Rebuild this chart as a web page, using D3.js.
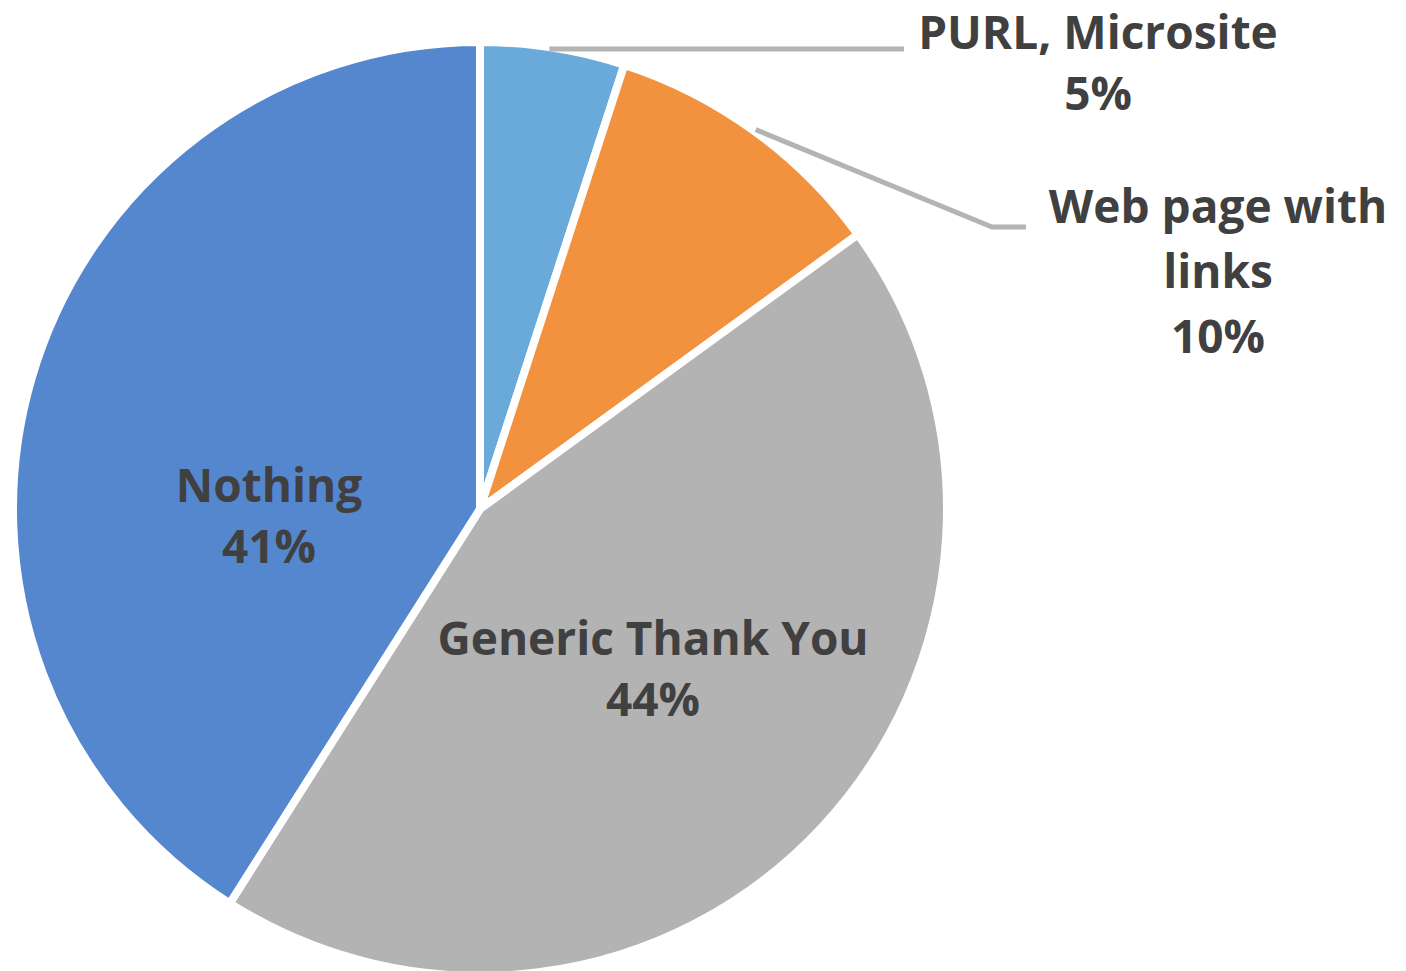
<!DOCTYPE html>
<html>
<head>
<meta charset="utf-8">
<script src="https://cdn.jsdelivr.net/npm/d3@7"></script>
<style>
  html, body { margin: 0; padding: 0; background: #ffffff; }
  svg { display: block; }
  text { font-family: "Open Sans", Lato, sans-serif; font-weight: 700; fill: #404040; }
</style>
</head>
<body>
<svg id="chart" width="1406" height="971"></svg>
<script>
// Response categories, clockwise from 12 o'clock
const categories = ["PURL, Microsite", "Web page with links", "Generic Thank You", "Nothing"];
const shares = [5, 10, 44, 41];
const sliceColors = ["#6AAADA", "#F2913E", "#B3B3B3", "#5587CE"];
// label lines per slice (name may wrap)
const labelLines = [["PURL, Microsite"], ["Web page with", "links"], ["Generic Thank You"], ["Nothing"]];

const W = 1406, H = 971;
const cx = 480, cy = 509, R = 467;
const svg = d3.select("#chart");
const g = svg.append("g").attr("transform", `translate(${cx},${cy})`);

const data = categories.map((c, i) => ({ name: c, value: shares[i], color: sliceColors[i], lines: labelLines[i] }));

const pie = d3.pie().value(d => d.value).sort(null);
const arcs = pie(data);
const arc = d3.arc().innerRadius(0).outerRadius(R);

g.selectAll("path.slice")
  .data(arcs)
  .join("path")
  .attr("class", "slice")
  .attr("d", arc)
  .attr("fill", d => d.data.color)
  .attr("stroke", "#ffffff")
  .attr("stroke-width", 8)
  .attr("stroke-linejoin", "miter");

const fontSize = 46;
const lineGap = 61;

function polar(r, a) { return [r * Math.sin(a), -r * Math.cos(a)]; }

// Inside labels for the two large slices (first baseline, relative to centre)
const insidePos = { "Generic Thank You": [173, 146], "Nothing": [-211, -7] };
arcs.filter(a => insidePos[a.data.name]).forEach(a => {
  const [x, y] = insidePos[a.data.name];
  const t = g.append("text").attr("text-anchor", "middle").attr("font-size", fontSize);
  a.data.lines.concat([a.data.value + "%"]).forEach((ln, i) => {
    t.append("tspan").attr("x", x).attr("y", y + i * lineGap).text(ln);
  });
});

// Outside labels with leader lines for the two small slices
const outside = {
  "PURL, Microsite": { label: [618, -460], elbow: null, end: [424, -460], gap: 61 },
  "Web page with links": { label: [738, -286], elbow: [512, -282], end: [546, -282], gap: 65 }
};
arcs.filter(a => outside[a.data.name]).forEach(a => {
  const o = outside[a.data.name];
  const mid = (a.startAngle + a.endAngle) / 2;
  const p = polar(R + 2, mid);
  const pts = o.elbow ? [p, o.elbow, o.end] : [[p[0] - 4, o.end[1]], o.end];
  g.append("path")
    .attr("d", d3.line()(pts))
    .attr("fill", "none")
    .attr("stroke", "#B4B4B4")
    .attr("stroke-width", 5);
  const t = g.append("text").attr("text-anchor", "middle").attr("font-size", fontSize);
  a.data.lines.concat([a.data.value + "%"]).forEach((ln, i) => {
    t.append("tspan").attr("x", o.label[0]).attr("y", o.label[1] + i * o.gap).text(ln);
  });
});
</script>
</body>
</html>
